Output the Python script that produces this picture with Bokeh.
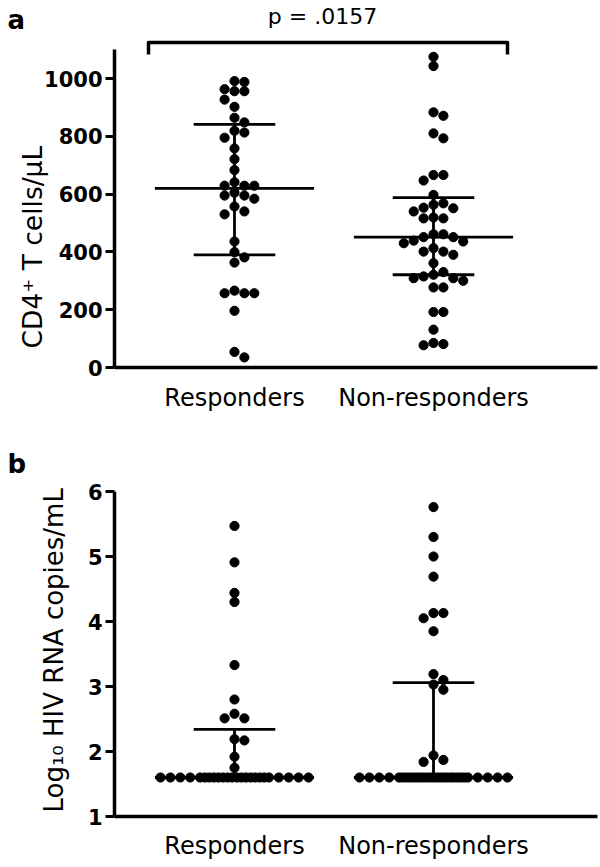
import numpy as np
from bokeh.plotting import figure
from bokeh.layouts import column
from bokeh.models import Range1d, FixedTicker
from bokeh.embed import file_html
from bokeh.resources import INLINE
from bokeh.core.properties import value

# ---------------- data ----------------
groups = ["Responders", "Non-responders"]

cd4_responders = [991, 988, 963, 956, 956, 927, 902, 864, 848, 819, 813, 795,
                  758, 721, 683, 641, 629, 629, 629, 605, 595, 595, 584, 557,
                  540, 530, 436, 399, 381, 363, 266, 257, 257, 257, 196, 54, 35]
cd4_nonresponders = [1075, 1043, 883, 871, 810, 793, 666, 666, 647, 597, 568,
                     563, 553, 551, 540, 519, 516, 516, 461, 461, 451, 451, 439,
                     436, 430, 413, 401, 401, 390, 361, 330, 321, 315, 309, 309,
                     300, 277, 277, 192, 192, 131, 85, 81, 77]
cd4_median = [620, 451]
cd4_q1 = [390, 321]
cd4_q3 = [841, 588]
cd4_ticks = [0, 200, 400, 600, 800, 1000]
cd4_label = "CD4\u207a T cells/\u03bcL"
p_value_text = "p = .0157"

hiv_responders = [5.47, 4.91, 4.44, 4.30, 3.33, 2.80, 2.58, 2.51, 2.51, 2.19,
                  2.17, 1.92, 1.75,
                  1.6, 1.6, 1.6, 1.6, 1.6, 1.6, 1.6, 1.6, 1.6, 1.6, 1.6, 1.6,
                  1.6, 1.6, 1.6, 1.6, 1.6, 1.6, 1.6, 1.6, 1.6, 1.6, 1.6, 1.6]
hiv_nonresponders = [5.76, 5.30, 5.00, 4.69, 4.13, 4.13, 4.05, 3.85, 3.19, 3.10,
                     3.03, 2.95, 1.94, 1.87, 1.84,
                     1.6, 1.6, 1.6, 1.6, 1.6, 1.6, 1.6, 1.6, 1.6, 1.6, 1.6, 1.6,
                     1.6, 1.6, 1.6, 1.6, 1.6, 1.6, 1.6, 1.6, 1.6, 1.6, 1.6, 1.6,
                     1.6, 1.6, 1.6, 1.6, 1.6]
hiv_median = [1.6, 1.6]
hiv_q1 = [1.6, 1.6]
hiv_q3 = [2.34, 3.06]
hiv_ticks = [1, 2, 3, 4, 5, 6]
hiv_label = "Log\u2081\u2080 HIV RNA copies/mL"

# ---------------- layout constants (page pixels) ----------------
FONT = "DejaVu Sans"
W = 600
PX_X = 199.0                 # px per category unit
CENTERS = [1, 2]
C1_PAGE = 234                # page x of first category
XS = 1 - C1_PAGE / PX_X
XE = XS + W / PX_X


def xp(page_x):
    return XS + page_x / PX_X


YAXIS_X = xp(114)

# panel a: figure spans page y 0..432, value 0 at page 367
A_TOP, A_BOT, A_ZERO, A_PXY = 0, 432, 367, 0.289
# panel b: figure spans page y 432..866, value 1 at page 816
B_TOP, B_BOT, B_ONE, B_PXY = 432, 866, 816, 65.0


def ya(page_y):
    return (A_ZERO - page_y) / A_PXY


def yb(page_y):
    return 1 + (B_ONE - page_y) / B_PXY


def swarm(vals, px_y, dot=9.0, slot=9.9, tie_n=8, half=74.0):
    vals = np.asarray(vals, float)
    offs = np.zeros(len(vals))
    placed = []
    uniq, counts = np.unique(vals, return_counts=True)
    big = [u for u, c in zip(uniq, counts) if c > tie_n]
    for u in big:
        idx = np.where(vals == u)[0]
        n = len(idx)
        outer = [half - i * slot for i in range(4)]
        lim = half - 4 * slot
        inner = list(np.linspace(-lim, lim, n - 8))
        pos = sorted([-o for o in outer] + outer + inner)
        for i, pp in zip(idx, pos):
            offs[i] = pp
            placed.append((pp, u * px_y))
    rest = [i for i in range(len(vals)) if vals[i] not in big]
    rest.sort(key=lambda i: -vals[i])
    cands = [0] + [s * j for j in range(1, 30) for s in (1, -1)]
    for i in rest:
        y = vals[i] * px_y
        x = 0.0
        for c in cands:
            x = c * slot
            if all((x - px) ** 2 + (y - py) ** 2 >= dot ** 2 for px, py in placed):
                break
        offs[i] = x
        placed.append((x, y))
    return offs / PX_X


def make_panel(height, y0, y1, ybounds, ticks, xloc, xstandoff):
    p = figure(width=W, height=height, x_range=Range1d(XS, XE),
               y_range=Range1d(y0, y1), output_backend="svg",
               toolbar_location=None, min_border_left=0, min_border_right=0,
               min_border_top=0, min_border_bottom=0)
    p.outline_line_color = None
    p.grid.visible = False
    p.background_fill_color = "white"
    p.border_fill_color = "white"

    yax = p.yaxis[0]
    yax.fixed_location = YAXIS_X
    yax.ticker = FixedTicker(ticks=ticks)
    yax.bounds = ybounds
    yax.axis_line_width = 3.5
    yax.axis_line_color = "black"
    yax.major_tick_line_width = 3
    yax.major_tick_out = 9
    yax.major_tick_in = 0
    yax.minor_tick_out = 0
    yax.minor_tick_in = 0
    yax.major_label_text_font = FONT
    yax.major_label_text_font_style = "bold"
    yax.major_label_text_font_size = "21px"
    yax.major_label_text_color = "black"
    yax.major_label_standoff = 3

    xax = p.xaxis[0]
    xax.fixed_location = xloc
    xax.ticker = FixedTicker(ticks=CENTERS)
    xax.major_label_overrides = {c: g for c, g in zip(CENTERS, groups)}
    xax.bounds = (YAXIS_X, min(xp(597), XE))
    xax.axis_line_width = 3.5
    xax.axis_line_color = "black"
    xax.major_tick_out = 0
    xax.major_tick_in = 0
    xax.minor_tick_out = 0
    xax.minor_tick_in = 0
    xax.major_label_text_font = FONT
    xax.major_label_text_font_size = "24px"
    xax.major_label_text_color = "black"
    xax.major_label_standoff = xstandoff
    return p


def draw_group(p, vals_list, px_y, med, q1, q3):
    for c, vals, m, a, b in zip(CENTERS, vals_list, med, q1, q3):
        xs = c + swarm(vals, px_y)
        p.scatter(xs, vals, size=9.2, color="black")
        p.segment(x0=[c - 0.40], y0=[m], x1=[c + 0.40], y1=[m],
                  line_width=2.8, color="black")
        p.segment(x0=[c - 0.205, c - 0.205], y0=[a, b],
                  x1=[c + 0.205, c + 0.205], y1=[a, b],
                  line_width=2.8, color="black")
        p.segment(x0=[c], y0=[a], x1=[c], y1=[b], line_width=2.8, color="black")


def add_text(p, text, x, y, size, bold=False, angle=0.0, align="left"):
    p.text(x=[x], y=[y], text=[text], text_font=value(FONT),
           text_font_style="bold" if bold else "normal",
           text_font_size=size, text_baseline="alphabetic",
           text_align=align, angle=angle, text_color="black")


# ---------------- panel a ----------------
pa = make_panel(A_BOT - A_TOP, ya(A_BOT), ya(A_TOP), (0, 1100), cd4_ticks,
                0, 16)
draw_group(pa, [cd4_responders, cd4_nonresponders], A_PXY,
           cd4_median, cd4_q1, cd4_q3)

bl, br = xp(148), xp(507)
btop, bend = ya(42), ya(54)
pa.line([bl, bl, br, br], [bend, btop, btop, bend], line_width=3.5,
        color="black", line_join="round")
add_text(pa, p_value_text, xp(322), ya(16), "22px", align="center")
add_text(pa, "a", xp(7), ya(19), "26px", bold=True)
add_text(pa, cd4_label, xp(32), ya(348), "26.5px", angle=np.pi / 2,
         align="left")

# ---------------- panel b ----------------
pb = make_panel(B_BOT - B_TOP, yb(B_BOT), yb(B_TOP), (1, 6), hiv_ticks,
                1, 15)
draw_group(pb, [hiv_responders, hiv_nonresponders], B_PXY,
           hiv_median, hiv_q1, hiv_q3)
add_text(pb, "b", xp(7), yb(463), "26px", bold=True)
add_text(pb, hiv_label, xp(53), yb(812), "26px", angle=np.pi / 2,
         align="left")

layout = column(pa, pb, spacing=0)
open("out.html", "w").write(file_html(layout, INLINE))
